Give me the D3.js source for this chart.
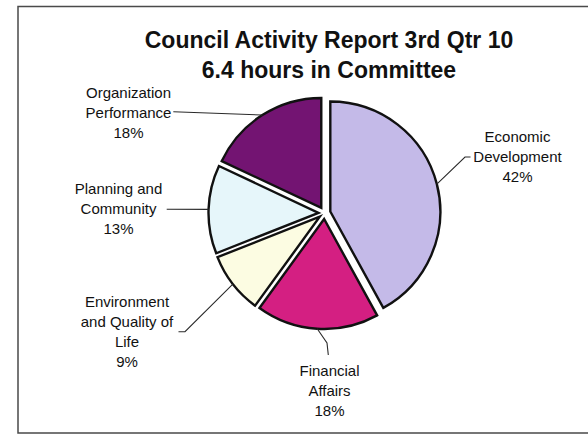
<!DOCTYPE html>
<html>
<head>
<meta charset="utf-8">
<script src="https://cdn.jsdelivr.net/npm/d3@7"></script>
<style>
  html, body { margin: 0; padding: 0; background: #fff; overflow: hidden; width: 588px; height: 443px; }
  svg { display: block; }
  text { font-family: "Liberation Sans", Arial, sans-serif; }
</style>
</head>
<body>
<svg id="chart" width="588" height="443"></svg>
<script>
// ---- data ----
const titleLines = ["Council Activity Report 3rd Qtr 10", "6.4 hours in Committee"];
const categories = ["Economic Development", "Financial Affairs", "Environment and Quality of Life", "Planning and Community", "Organization Performance"];
const values = [42, 18, 9, 13, 18];
const labelLines = [
  ["Economic", "Development"],
  ["Financial", "Affairs"],
  ["Environment", "and Quality of", "Life"],
  ["Planning and", "Community"],
  ["Organization", "Performance"]
];

// ---- style / layout (kept apart from the data) ----
const sliceColors = ["#c4bae8", "#d41f82", "#fcfce2", "#e6f6fa", "#731472"];
const cx = 324.5, cy = 213, radius = 110, explode = 6;
// label block: centre x, first baseline y; leader start and optional elbow
const labelLayout = [
  { x: 517.5, y: 142, start: [470.5, 157], elbow: [465, 157] },
  { x: 329.5, y: 376, start: [328.3, 355], elbow: [327, 343] },
  { x: 127,   y: 307, start: [178.5, 331.7], elbow: [185, 331.7] },
  { x: 118.5, y: 193.5, start: [166.7, 209.3], elbow: null },
  { x: 128.5, y: 97.5, start: [173.3, 111.7], elbow: null }
];
const lineH = 20;

const svg = d3.select("#chart");

// frame (open on the right, running off the picture)
svg.append("path")
  .attr("d", "M588,6.5H18V433H588")
  .attr("fill", "none")
  .attr("stroke", "#4a4a4a").attr("stroke-width", 1.5);

// title
svg.append("g").selectAll("text")
  .data(titleLines).join("text")
  .attr("x", 329).attr("y", (d, i) => 48.3 + i * 29.3)
  .attr("text-anchor", "middle")
  .attr("font-size", 23).attr("font-weight", "bold")
  .attr("fill", "#111")
  .text(d => d);

const total = d3.sum(values);
const pie = d3.pie().sort(null).value(d => d).startAngle(0).endAngle(2 * Math.PI);
const arcs = pie(values);
const arc = d3.arc().innerRadius(0).outerRadius(radius);

const offset = a => {
  const m = (a.startAngle + a.endAngle) / 2;
  return [Math.sin(m) * explode, -Math.cos(m) * explode];
};

// slices
svg.append("g").selectAll("path")
  .data(arcs).join("path")
  .attr("transform", d => { const o = offset(d); return `translate(${cx + o[0]},${cy + o[1]})`; })
  .attr("d", arc)
  .attr("fill", (d, i) => sliceColors[i])
  .attr("stroke", "#111")
  .attr("stroke-width", 2.4)
  .attr("stroke-linejoin", "miter");

// leader lines
svg.append("g").selectAll("path")
  .data(arcs).join("path")
  .attr("d", (d, i) => {
    const o = offset(d);
    const m = (d.startAngle + d.endAngle) / 2;
    const ex = cx + o[0] + Math.sin(m) * radius;
    const ey = cy + o[1] - Math.cos(m) * radius;
    const L = labelLayout[i];
    const p = d3.path();
    p.moveTo(L.start[0], L.start[1]);
    if (L.elbow) p.lineTo(L.elbow[0], L.elbow[1]);
    p.lineTo(ex, ey);
    return p.toString();
  })
  .attr("fill", "none")
  .attr("stroke", "#2a2a2a")
  .attr("stroke-width", 1.1);

// labels
const lab = svg.append("g").selectAll("text")
  .data(arcs).join("text")
  .attr("text-anchor", "middle")
  .attr("font-size", 15)
  .attr("fill", "#111");

lab.each(function (d, i) {
  const L = labelLayout[i];
  const lines = labelLines[i].concat([Math.round(d.data / total * 100) + "%"]);
  d3.select(this).selectAll("tspan")
    .data(lines).join("tspan")
    .attr("x", L.x)
    .attr("y", (t, j) => L.y + j * lineH)
    .text(t => t);
});
</script>
</body>
</html>
